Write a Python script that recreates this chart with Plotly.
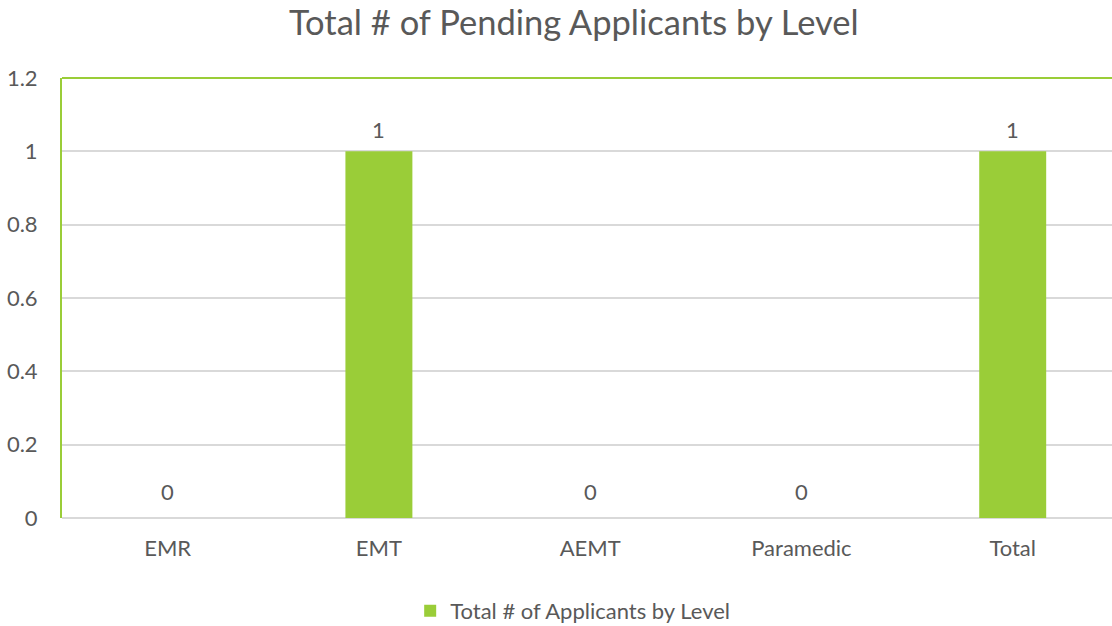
import plotly.graph_objects as go

categories = ["EMR", "EMT", "AEMT", "Paramedic", "Total"]
values = [0, 1, 0, 0, 1]
series_name = "Total # of Applicants by Level"
title_text = "Total # of Pending Applicants by Level"
y_ticks = [0, 0.2, 0.4, 0.6, 0.8, 1, 1.2]
y_tick_labels = ["0", "0.2", "0.4", "0.6", "0.8", "1", "1.2"]

GREEN = "#9ACD38"
TEXT = "#595959"
FONT = "Lato"

fig = go.Figure()
fig.add_trace(go.Bar(
    x=categories, y=values, name=series_name,
    marker=dict(color=GREEN, line=dict(width=0)),
    showlegend=True,
))

for c, v in zip(categories, values):
    fig.add_annotation(x=c, y=v, text=str(v), showarrow=False,
                       yanchor="bottom", yshift=(11 if v == 0 else 6),
                       font=dict(family=FONT, size=22, color=TEXT))

fig.add_shape(type="line", xref="paper", yref="paper", x0=0, x1=1, y0=1, y1=1,
              line=dict(color=GREEN, width=2))

fig.update_layout(
    width=1112, height=626,
    margin=dict(l=62, r=0, t=78, b=108),
    paper_bgcolor="white", plot_bgcolor="white",
    title=dict(text=title_text, x=0.516, xanchor="center", y=0.964, yanchor="middle",
               font=dict(family=FONT, size=34.5, color=TEXT)),
    bargap=0.683,
    font=dict(family=FONT, size=22, color=TEXT),
    legend=dict(orientation="h", x=0.515, xanchor="center", xref="container",
                y=0.024, yanchor="middle", yref="container",
                font=dict(family=FONT, size=22, color=TEXT), itemwidth=30),
)
fig.update_xaxes(range=[-0.5, 4.47], showgrid=False, showline=False, ticks="", zeroline=False,
                 ticklabelstandoff=15,
                 tickfont=dict(family=FONT, size=22, color=TEXT))
fig.update_yaxes(range=[0, 1.2], tickvals=y_ticks, ticktext=y_tick_labels,
                 showgrid=True, gridcolor="#D9D9D9", gridwidth=1.5,
                 zeroline=True, zerolinecolor="#D9D9D9", zerolinewidth=2,
                 showline=True, linecolor=GREEN, linewidth=2,
                 ticks="", ticklabelstandoff=18,
                 tickfont=dict(family=FONT, size=22, color=TEXT))

fig.write_html("out.html", config={"displayModeBar": False},
               post_script="document.body.style.margin='0';")
